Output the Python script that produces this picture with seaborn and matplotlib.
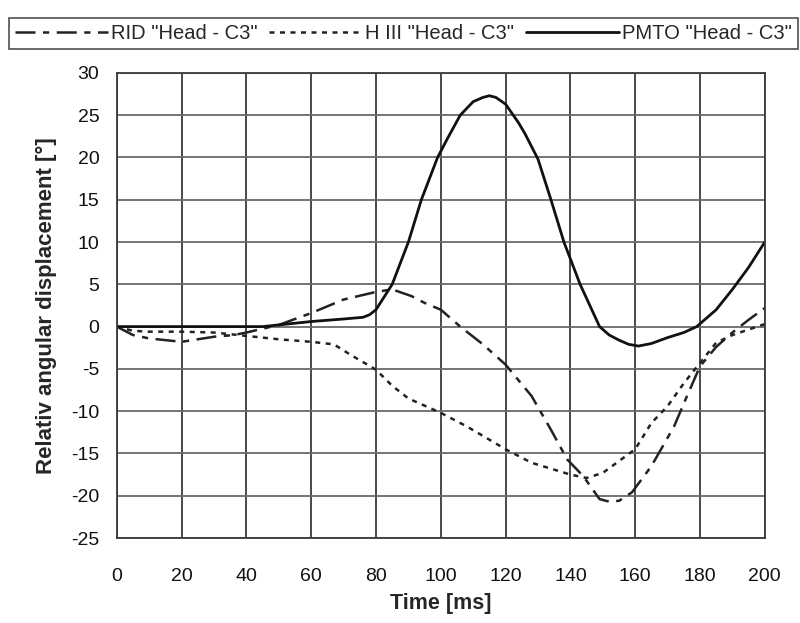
import numpy as np
import pandas as pd
import seaborn as sns
import matplotlib.pyplot as plt

# time axis values (ms) and angular displacement (deg)
rid_t = [0, 5, 10, 15, 20, 30, 36, 40, 50, 60, 70, 80, 85, 91, 95, 100, 106, 113, 120,
         128, 134, 139, 144, 149, 152, 155, 159, 165, 172, 176, 180, 185, 190, 195, 200]
rid_v = [0, -1, -1.4, -1.6, -1.8, -1.2, -1.0, -0.7, 0.2, 1.6, 3.2, 4.1, 4.4, 3.6, 2.8, 2.0, 0, -2.1, -4.5,
         -8.2, -12.2, -15.7, -17.7, -20.4, -20.7, -20.6, -19.6, -16.5, -11.8, -8.2, -4.7, -2.4, -0.7, 0.8, 2.2]

h3_t = [0, 5, 10, 20, 30, 40, 50, 60, 67, 72, 80, 85, 90, 100, 108, 120, 128, 140, 145,
        150, 160, 165, 170, 175, 180, 185, 190, 200]
h3_v = [0, -0.5, -0.6, -0.6, -0.7, -1.1, -1.5, -1.8, -2.1, -3.3, -5.1, -7, -8.5, -10.2, -11.8, -14.5, -16.1, -17.5, -17.9,
        -17.3, -14.5, -11.4, -9.4, -6.7, -4.3, -1.9, -1.0, 0.3]

pmto_t = [0, 10, 20, 30, 40, 45, 50, 60, 70, 76, 78, 80, 82, 85, 87, 90, 94, 99, 102, 106, 110, 113, 115,
          117, 120, 122, 124, 126, 128, 130, 134, 138, 143, 146, 149, 152, 155, 158, 161, 165, 170, 175,
          179, 185, 190, 195, 200]
pmto_v = [0, 0, 0, 0, 0, 0, 0.2, 0.6, 0.9, 1.1, 1.4, 2.0, 3.2, 5, 7, 10, 15, 20, 22.2, 25, 26.6, 27.1, 27.3,
          27.1, 26.3, 25.2, 24.1, 22.8, 21.3, 19.8, 15, 10, 5, 2.5, 0, -1.0, -1.6, -2.1, -2.3, -2.0, -1.3, -0.7,
          0, 2.0, 4.4, 7.0, 10]

labels = ['RID "Head - C3"', 'H III "Head - C3"', 'PMTO "Head - C3"']
x_ticks = list(range(0, 201, 20))
y_ticks = list(range(-25, 31, 5))

sns.set_style("white")
plt.rcParams['font.family'] = ['Liberation Sans', 'DejaVu Sans']
plt.rcParams['axes.unicode_minus'] = False

fig = plt.figure(figsize=(8, 6.23), dpi=100)
ax = fig.add_axes([0.146, 0.1364, 0.81, 0.7466])

sns.lineplot(x=rid_t, y=rid_v, ax=ax, color='#222222', lw=1.8,
             linestyle=(0, (8, 3, 2.5, 3)), label=labels[0])
sns.lineplot(x=h3_t, y=h3_v, ax=ax, color='#222222', lw=1.8,
             linestyle=(0, (2, 2.2)), label=labels[1])
sns.lineplot(x=pmto_t, y=pmto_v, ax=ax, color='#111111', lw=2.0,
             linestyle='-', label=labels[2])

ax.set_xlim(0, 200)
ax.set_ylim(-25, 30)
ax.set_xticks(x_ticks)
ax.set_yticks(y_ticks)
ax.grid(True, axis='x', color='#3a3a3a', lw=1.3)
ax.grid(True, axis='y', color='#6a6a6a', lw=1.3)
for s in ax.spines.values():
    s.set_color('#3a3a3a')
    s.set_linewidth(1.3)
ax.tick_params(axis='both', direction='inout', length=9, width=1.0, color='#222222',
               labelsize=14, labelcolor='#111111')
ax.tick_params(axis='x', pad=17)
ax.tick_params(axis='y', pad=8)

ax.set_xlabel('Time [ms]', fontsize=15.5, fontweight='bold', labelpad=6)
ax.set_ylabel('Relativ angular displacement [°]', fontsize=16, fontweight='bold', labelpad=10)

ax.get_legend().remove()
h, l = ax.get_legend_handles_labels()
leg = fig.legend(h, l, loc='upper center', bbox_to_anchor=(0.504, 0.988), ncol=3,
                 fontsize=14.5, frameon=True, fancybox=False, handlelength=4.6,
                 columnspacing=0.6, handletextpad=0.15, borderpad=0.3)
leg.get_frame().set_edgecolor('#222222')
leg.get_frame().set_linewidth(1.2)

fig.savefig('out.png', dpi=100)
